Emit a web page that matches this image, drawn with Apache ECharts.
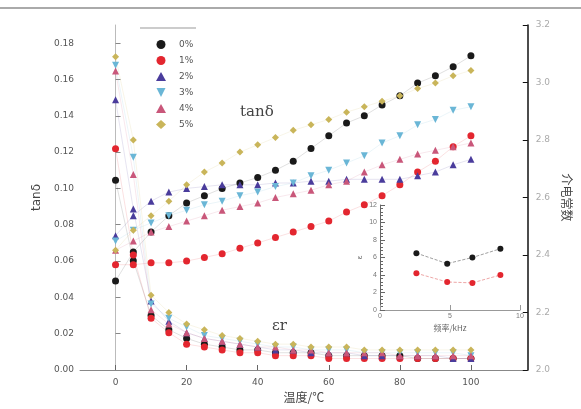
<!DOCTYPE html>
<html><head><meta charset="utf-8">
<script src="https://cdn.jsdelivr.net/npm/echarts@6/dist/echarts.min.js"></script>
<style>html,body{margin:0;padding:0;background:#fff}#c{width:581px;height:409px}</style>
</head><body><div id="c"></div>
<script>
const temps = [0,5,10,15,20,25,30,35,40,45,50,55,60,65,70,75,80,85,90,95,100];
const names = ['0%','1%','2%','3%','4%','5%'];
const colors = ['#1a1a1a','#e3262f','#4a3c9c','#6ab6d6','#c9577a','#c9b55a'];
const symbols = ['circle','circle','triangle','path://M0,0 L10,0 L5,10 Z','triangle','diamond'];
// tanδ (left axis), rising group
const tanBlack  = [0.049,0.065,0.076,0.085,0.092,0.096,0.100,0.103,0.106,0.110,0.115,0.122,0.129,0.136,0.140,0.146,0.151,0.158,0.162,0.167,0.173];
const tanRed    = [0.058,0.058,0.059,0.059,0.060,0.062,0.064,0.067,0.070,0.073,0.076,0.079,0.082,0.087,0.091,0.096,0.102,0.109,0.115,0.123,0.129];
const tanPurple = [0.074,0.085,0.093,0.098,0.100,0.101,0.102,0.102,0.102,0.103,0.103,0.104,0.104,0.105,0.105,0.105,0.105,0.107,0.109,0.113,0.116];
const tanCyan   = [0.071,0.077,0.081,0.085,0.088,0.091,0.093,0.096,0.098,0.101,0.103,0.107,0.110,0.114,0.118,0.125,0.129,0.135,0.138,0.143,0.145];
const tanPink   = [0.066,0.071,0.076,0.079,0.082,0.085,0.088,0.090,0.092,0.095,0.097,0.099,0.102,0.104,0.109,0.113,0.116,0.119,0.121,0.123,0.125];
const tanOlive  = [0.066,0.077,0.085,0.093,0.102,0.109,0.114,0.120,0.124,0.128,0.132,0.135,0.138,0.142,0.145,0.148,0.151,0.155,0.158,0.162,0.165];
// εr (right axis), falling group
const epsBlack  = [2.66,2.38,2.19,2.14,2.11,2.09,2.08,2.07,2.07,2.06,2.06,2.06,2.05,2.05,2.05,2.05,2.05,2.04,2.04,2.04,2.04];
const epsRed    = [2.77,2.40,2.18,2.13,2.09,2.08,2.07,2.06,2.06,2.05,2.05,2.05,2.04,2.04,2.04,2.04,2.04,2.04,2.04,2.04,2.04];
const epsPurple = [2.94,2.56,2.24,2.17,2.13,2.11,2.10,2.09,2.08,2.07,2.07,2.06,2.06,2.06,2.05,2.05,2.05,2.05,2.05,2.04,2.04];
const epsCyan   = [3.06,2.74,2.23,2.18,2.15,2.12,2.11,2.10,2.09,2.08,2.08,2.07,2.07,2.07,2.06,2.06,2.06,2.06,2.06,2.06,2.05];
const epsPink   = [3.04,2.68,2.21,2.16,2.13,2.11,2.10,2.09,2.08,2.08,2.07,2.07,2.06,2.06,2.06,2.06,2.05,2.05,2.05,2.05,2.05];
const epsOlive  = [3.09,2.80,2.26,2.20,2.16,2.14,2.12,2.11,2.10,2.09,2.09,2.08,2.08,2.08,2.07,2.07,2.07,2.07,2.07,2.07,2.07];
const xTicks = [0,20,40,60,80,100];
const tanTicks = [0,0.02,0.04,0.06,0.08,0.10,0.12,0.14,0.16,0.18];
// inset
const insetFreq = [2.6,4.8,6.6,8.6];
const insetBlack = [6.5,5.3,6.0,7.0];
const insetRed = [4.2,3.2,3.1,4.0];

const tanSets = [tanBlack,tanRed,tanPurple,tanCyan,tanPink,tanOlive];
const epsSets = [epsBlack,epsRed,epsPurple,epsCyan,epsPink,epsOlive];
const pair = (xs, ys) => xs.map((x,i)=>[x,ys[i]]);

const series = [];
names.forEach((n,i)=>{
  series.push({name:n,type:'line',xAxisIndex:0,yAxisIndex:0,data:pair(temps,tanSets[i]),
    symbol:symbols[i],symbolSize:7,itemStyle:{color:colors[i]},
    lineStyle:{width:0.7,color:colors[i],opacity:0.2}});
  series.push({name:n,type:'line',xAxisIndex:0,yAxisIndex:1,data:pair(temps,epsSets[i]),
    symbol:symbols[i],symbolSize:7,itemStyle:{color:colors[i]},
    lineStyle:{width:0.7,color:colors[i],opacity:0.2}});
});
series.push({type:'line',xAxisIndex:1,yAxisIndex:2,data:pair(insetFreq,insetBlack),symbol:'circle',symbolSize:6,
  itemStyle:{color:'#1a1a1a'},lineStyle:{type:'dashed',width:0.8,color:'#888'}});
series.push({type:'line',xAxisIndex:1,yAxisIndex:2,data:pair(insetFreq,insetRed),symbol:'circle',symbolSize:6,
  itemStyle:{color:'#e3262f'},lineStyle:{type:'dashed',width:0.8,color:'#e89090'}});

const lab = {color:'#555',fontSize:9,fontFamily:'DejaVu Sans'};
const chart = echarts.init(document.getElementById('c'),null,{renderer:'canvas'});
chart.setOption({
  animation:false,
  backgroundColor:'#fff',
  grid:[{left:80,right:44,top:25,bottom:39},{left:380,top:205,width:140,height:105}],
  legend:{orient:'vertical',left:151,top:35,itemGap:7,itemWidth:10,itemHeight:9,
    textStyle:{fontSize:9,color:'#555',fontFamily:'DejaVu Sans',padding:[0,0,0,8]},
    data:names.map((n,i)=>({name:n,icon:symbols[i]}))},
  xAxis:[{type:'value',min:-10,max:116,gridIndex:0,name:'温度/℃',nameLocation:'middle',nameGap:20,
      nameTextStyle:{fontSize:12,color:'#444',fontFamily:'Noto Sans CJK SC'},
      axisLine:{lineStyle:{color:'#888'}},axisTick:{inside:true,customValues:xTicks,lineStyle:{color:'#666'}},
      axisLabel:Object.assign({customValues:xTicks,margin:8},lab),splitLine:{show:false}},
    {type:'value',min:0,max:10,interval:5,gridIndex:1,name:'频率/kHz',nameLocation:'middle',nameGap:14,
      nameTextStyle:{fontSize:8,color:'#666',fontFamily:'Noto Sans CJK SC'},
      axisLine:{lineStyle:{color:'#999'}},axisTick:{inside:true},axisLabel:{fontSize:7,color:'#777',margin:3},splitLine:{show:false}}],
  yAxis:[{type:'value',min:0,max:0.19,gridIndex:0,position:'left',name:'tanδ',nameLocation:'middle',nameGap:31,
      nameTextStyle:{fontSize:12,color:'#444',fontFamily:'DejaVu Sans'},
      axisLine:{show:true,lineStyle:{color:'#bbb'}},axisTick:{show:true,inside:true,customValues:tanTicks,lineStyle:{color:'#888'}},
      axisLabel:Object.assign({customValues:tanTicks,formatter:v=>v.toFixed(2),margin:6},lab),splitLine:{show:false}},
    {type:'value',min:2.0,max:3.2,interval:0.2,gridIndex:0,position:'right',name:'介电常数',nameLocation:'middle',nameGap:22,nameRotate:-90,
      nameTextStyle:{fontSize:12,color:'#444',fontFamily:'Noto Sans CJK SC'},
      axisLine:{show:true,lineStyle:{color:'#111',width:1.5}},axisTick:{show:true,inside:true,lineStyle:{color:'#111'}},
      axisLabel:Object.assign({formatter:v=>v.toFixed(1)},lab,{color:'#aaa'}),splitLine:{show:false}},
    {type:'value',min:0,max:12,interval:2,gridIndex:1,name:'ε',nameLocation:'middle',nameGap:16,
      nameTextStyle:{fontSize:8,color:'#666'},
      axisLine:{show:true,lineStyle:{color:'#666'}},axisTick:{show:true,inside:true},minorTick:{show:true},
      axisLabel:{fontSize:7,color:'#777',margin:3},splitLine:{show:false}}],
  graphic:[
    {type:'line',shape:{x1:0,y1:8,x2:581,y2:8},style:{stroke:'#aaa',lineWidth:2}},
    {type:'line',shape:{x1:140,y1:28,x2:196,y2:28},style:{stroke:'#999',lineWidth:1}},
    {type:'text',left:240,top:105,style:{text:'tanδ',fontSize:15,fill:'#444',fontFamily:'DejaVu Serif'}},
    {type:'text',left:272,top:319,style:{text:'εr',fontSize:15,fill:'#444',fontFamily:'DejaVu Serif'}}
  ],
  series:series
});
</script></body></html>
